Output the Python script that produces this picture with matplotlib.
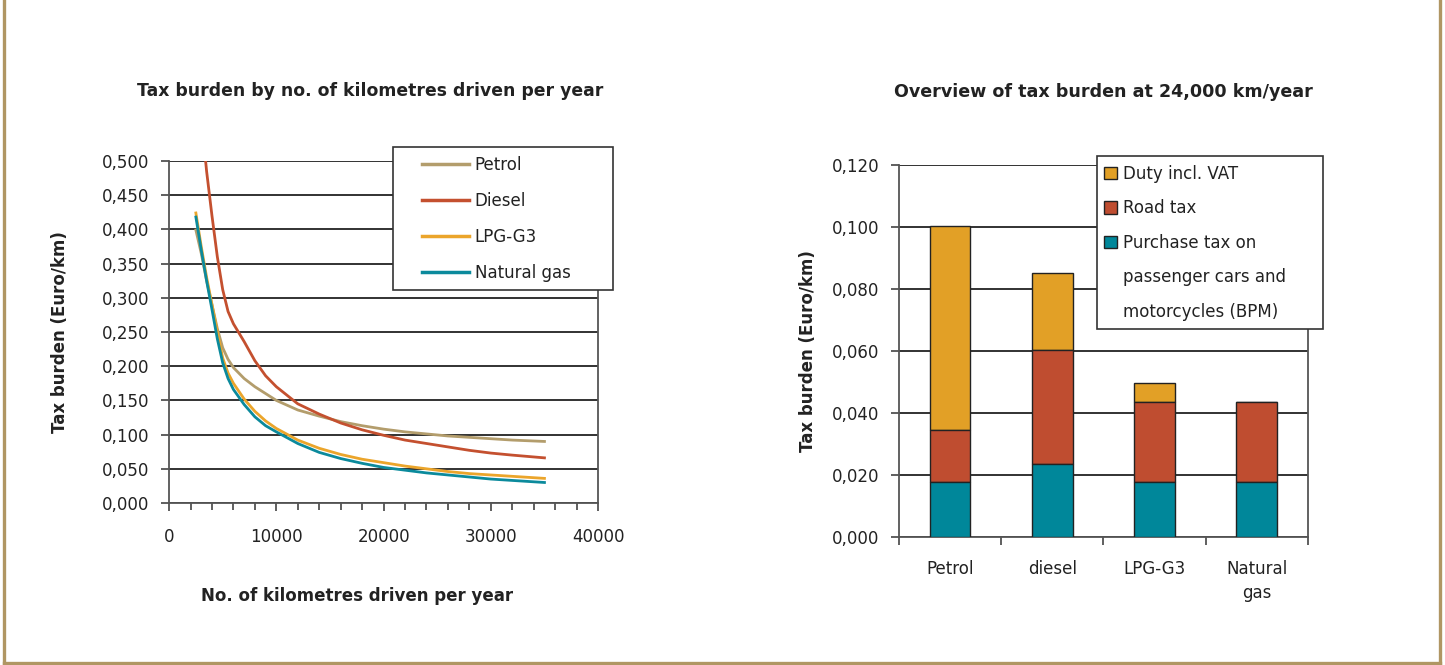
import matplotlib.pyplot as plt
from matplotlib.lines import Line2D
from matplotlib.patches import Patch, Rectangle
from matplotlib.ticker import FuncFormatter, MultipleLocator
import numpy as np

plt.rcParams['font.family'] = ['DejaVu Sans']

# tax burden per km by kilometres driven per year
km = [2500, 3000, 3500, 4000, 4500, 5000, 5500, 6000, 7000, 8000, 9000, 10000,
      12000, 14000, 16000, 18000, 20000, 22000, 24000, 26000, 28000, 30000, 32000, 35000]
petrol = [0.399, 0.365, 0.325, 0.290, 0.255, 0.227, 0.210, 0.198, 0.182, 0.170, 0.160, 0.150,
          0.136, 0.127, 0.119, 0.113, 0.108, 0.104, 0.101, 0.098, 0.096, 0.094, 0.092, 0.090]
diesel = [0.680, 0.565, 0.485, 0.420, 0.360, 0.312, 0.280, 0.262, 0.236, 0.208, 0.186, 0.170,
          0.145, 0.130, 0.117, 0.107, 0.099, 0.092, 0.087, 0.082, 0.077, 0.073, 0.070, 0.066]
lpg = [0.424, 0.375, 0.330, 0.290, 0.250, 0.212, 0.190, 0.175, 0.152, 0.134, 0.120, 0.109,
       0.092, 0.080, 0.071, 0.064, 0.059, 0.054, 0.050, 0.046, 0.043, 0.041, 0.039, 0.036]
natgas = [0.418, 0.370, 0.325, 0.283, 0.240, 0.205, 0.182, 0.166, 0.144, 0.126, 0.113, 0.104,
          0.087, 0.074, 0.065, 0.058, 0.052, 0.048, 0.044, 0.041, 0.038, 0.035, 0.033, 0.030]

# breakdown at 24,000 km/year
fuels = ['Petrol', 'diesel', 'LPG-G3', 'Natural\ngas']
bpm = [0.0176, 0.0235, 0.0176, 0.0176]
road_tax = [0.0170, 0.0368, 0.0259, 0.0259]
duty = [0.0656, 0.0248, 0.0061, 0.0]

c_petrol = '#B39D6C'
c_diesel = '#C4502F'
c_lpg = '#EBA52B'
c_gas = '#0B8A9C'
c_duty = '#E2A026'
c_road = '#BF4D30'
c_bpm = '#00879A'

comma = FuncFormatter(lambda v, p: ('%.3f' % v).replace('.', ','))
txt = '#222222'
fs = 12

fig = plt.figure(figsize=(14.45, 6.65), dpi=100)

# --- left: line chart ---
ax1 = fig.add_axes([0.1170, 0.2436, 0.2969, 0.5143])
ax1.plot(km, petrol, color=c_petrol, lw=2, label='Petrol')
ax1.plot(km, diesel, color=c_diesel, lw=2, label='Diesel')
ax1.plot(km, lpg, color=c_lpg, lw=2, label='LPG-G3')
ax1.plot(km, natgas, color=c_gas, lw=2, label='Natural gas')
ax1.set_xlim(0, 40000)
ax1.set_ylim(0, 0.5)
ax1.xaxis.set_major_locator(MultipleLocator(10000))
ax1.xaxis.set_minor_locator(MultipleLocator(2000))
ax1.yaxis.set_major_locator(MultipleLocator(0.05))
ax1.yaxis.set_major_formatter(comma)
ax1.grid(axis='y', color='#222222', lw=1.3)
ax1.set_axisbelow(True)
ax1.spines['top'].set_visible(False)
for s in ['left', 'right', 'bottom']:
    ax1.spines[s].set_color('#555555')
    ax1.spines[s].set_linewidth(1.3)
ax1.tick_params(axis='both', which='both', direction='out', color='#444444', width=1.2)
ax1.tick_params(axis='y', length=6, labelsize=fs, labelcolor=txt, pad=8)
ax1.tick_params(axis='x', which='major', length=6, labelsize=fs, labelcolor=txt, pad=12)
ax1.tick_params(axis='x', which='minor', length=5)
ax1.set_title('Tax burden by no. of kilometres driven per year', fontsize=12.4,
              fontweight='bold', color=txt, pad=47, x=0.469)
ax1.set_xlabel('No. of kilometres driven per year', fontsize=fs, fontweight='bold',
               color=txt, labelpad=29.5, x=0.438)
ax1.set_ylabel('Tax burden (Euro/km)', fontsize=fs, fontweight='bold', color=txt,
               labelpad=24)
ax1.add_patch(Rectangle((0.522, 0.623), 0.513, 0.418, transform=ax1.transAxes,
                        facecolor='white', edgecolor='#333333', lw=1.2,
                        clip_on=False, zorder=4))
leg1 = ax1.legend(loc='upper left', bbox_to_anchor=(0.590, 1.014), fontsize=fs,
                  frameon=False, handlelength=2.8, handletextpad=0.35,
                  labelspacing=1.08, borderpad=0, borderaxespad=0)
leg1.set_zorder(5)
for h in leg1.get_lines():
    h.set_linewidth(2.5)
for t in leg1.get_texts():
    t.set_color(txt)

# --- right: stacked bars ---
ax2 = fig.add_axes([0.6221, 0.1925, 0.2830, 0.5594])
xpos = np.arange(len(fuels))
bottom2 = np.array(bpm) + np.array(road_tax)
ax2.bar(xpos, duty, 0.4, bottom=bottom2, color=c_duty, edgecolor='#222222', lw=1, zorder=3)
ax2.bar(xpos, road_tax, 0.4, bottom=bpm, color=c_road, edgecolor='#222222', lw=1, zorder=3)
ax2.bar(xpos, bpm, 0.4, color=c_bpm, edgecolor='#222222', lw=1, zorder=3)
ax2.set_xlim(-0.5, len(fuels) - 0.5)
ax2.set_ylim(0, 0.12)
ax2.yaxis.set_major_locator(MultipleLocator(0.02))
ax2.yaxis.set_major_formatter(comma)
ax2.set_xticks(xpos)
ax2.set_xticklabels(fuels)
ax2.set_xticks(np.arange(-0.5, len(fuels)), minor=True)
ax2.grid(axis='y', color='#222222', lw=1.3)
ax2.set_axisbelow(True)
ax2.spines['top'].set_visible(False)
for s in ['left', 'right', 'bottom']:
    ax2.spines[s].set_color('#555555')
    ax2.spines[s].set_linewidth(1.3)
ax2.tick_params(axis='y', direction='out', length=6, labelsize=fs, labelcolor=txt,
                color='#444444', width=1.2, pad=8)
ax2.tick_params(axis='x', which='major', length=0, labelsize=fs, labelcolor=txt, pad=16.5)
ax2.tick_params(axis='x', which='minor', direction='out', length=6, color='#444444', width=1.2)
for lbl in ax2.get_xticklabels():
    lbl.set_linespacing(1.45)
ax2.set_title('Overview of tax burden at 24,000 km/year', fontsize=12.6,
              fontweight='bold', color=txt, pad=49)
ax2.set_ylabel('Tax burden (Euro/km)', fontsize=fs, fontweight='bold', color=txt,
               labelpad=11)

blank = Patch(facecolor='none', edgecolor='none')
handles2 = [Patch(facecolor=c_duty, edgecolor='#222222', lw=1),
            Patch(facecolor=c_road, edgecolor='#222222', lw=1),
            Patch(facecolor=c_bpm, edgecolor='#222222', lw=1), blank, blank]
labels2 = ['Duty incl. VAT', 'Road tax', 'Purchase tax on',
           'passenger cars and', 'motorcycles (BPM)']
ax2.add_patch(Rectangle((0.484, 0.559), 0.553, 0.465, transform=ax2.transAxes,
                        facecolor='white', edgecolor='#333333', lw=1.2,
                        clip_on=False, zorder=4))
leg2 = ax2.legend(handles2, labels2, loc='upper left', bbox_to_anchor=(0.501, 1.000),
                  fontsize=fs, frameon=False, handlelength=0.78, handleheight=0.78,
                  handletextpad=0.36, labelspacing=0.99, borderpad=0, borderaxespad=0)
leg2.set_zorder(5)
for t in leg2.get_texts():
    t.set_color(txt)

# gold frame around the figure (left, right, bottom)
gold = '#B09663'
fig.add_artist(Line2D([0.0025, 0.0025], [0, 1], color=gold, lw=2.4))
fig.add_artist(Line2D([0.9963, 0.9963], [0, 1], color=gold, lw=2.4))
fig.add_artist(Line2D([0.0025, 0.9963], [0.0035, 0.0035], color=gold, lw=2.4))

fig.savefig('out.png', dpi=100, facecolor='white')
